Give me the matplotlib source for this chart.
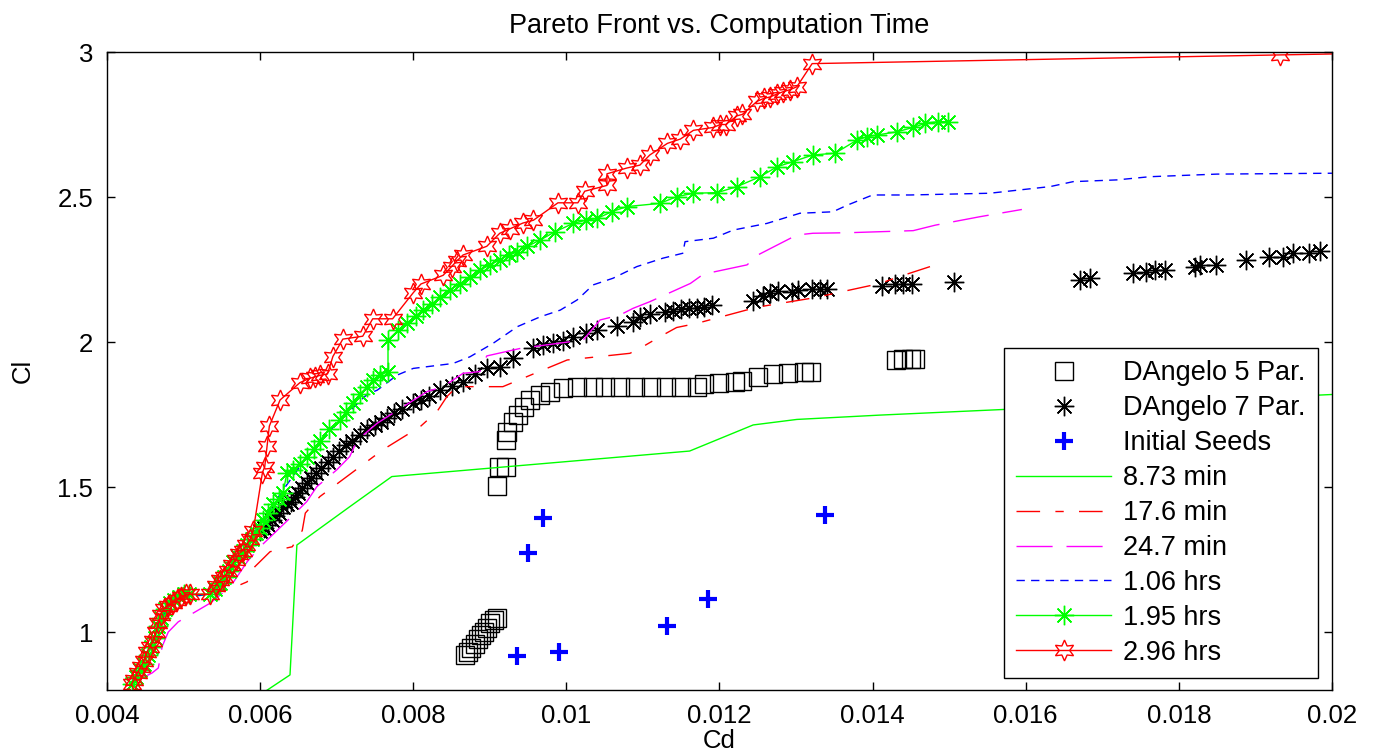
import numpy as np
import matplotlib
matplotlib.use('Agg')
import matplotlib.pyplot as plt

plt.rcParams['font.family'] = ['Liberation Sans', 'DejaVu Sans']

# DAngelo 5 parameters (squares)
d5_cd = [0.00868, 0.00872, 0.00876, 0.00880, 0.00884, 0.00888, 0.00892, 0.00896, 0.00900, 0.00905, 0.00910,
         0.00909, 0.00912, 0.00921, 0.00921, 0.00922, 0.00930, 0.00937, 0.00944, 0.00953, 0.00966, 0.00979,
         0.00996, 0.01014, 0.01035, 0.0105, 0.0107, 0.0109, 0.0111, 0.0113, 0.0115, 0.0117, 0.0118, 0.0120,
         0.0122, 0.0123, 0.0125, 0.0127, 0.0129, 0.0131, 0.0132, 0.0143, 0.0144, 0.0145, 0.01455]
d5_cl = [0.92, 0.93, 0.945, 0.96, 0.975, 0.99, 1.00, 1.015, 1.03, 1.04, 1.05,
         1.503, 1.570, 1.570, 1.662, 1.69, 1.725, 1.748, 1.777, 1.80, 1.817, 1.829,
         1.84, 1.846, 1.846, 1.846, 1.846, 1.846, 1.846, 1.846, 1.846, 1.846, 1.855, 1.858,
         1.862, 1.865, 1.88, 1.89, 1.893, 1.895, 1.895, 1.938, 1.94, 1.94, 1.94]

# DAngelo 7 parameters (asterisks)
d7_cd = [0.00600, 0.00605, 0.00610, 0.00615, 0.00620, 0.00625, 0.00630, 0.00635, 0.00640, 0.00645, 0.00650,
         0.00655, 0.00661, 0.00667, 0.00673, 0.00680, 0.00688, 0.00695, 0.00703, 0.00712, 0.00720, 0.00730,
         0.00740, 0.00750, 0.00758, 0.00766, 0.00775, 0.00785, 0.00800, 0.00810, 0.00820, 0.00835, 0.00850,
         0.00865, 0.00880, 0.00896, 0.00913, 0.00930, 0.00957, 0.00970, 0.00983, 0.00995, 0.01009, 0.01025,
         0.01040, 0.01066, 0.01087, 0.01096, 0.01109, 0.01129, 0.01139, 0.01150, 0.01160, 0.01170, 0.01180,
         0.01190, 0.01244, 0.01257, 0.01266, 0.01277, 0.01295, 0.01303, 0.01321, 0.01331, 0.01340, 0.01412,
         0.01429, 0.01440, 0.01452, 0.01506, 0.01671, 0.01684, 0.01740, 0.01757, 0.01769, 0.01782, 0.01821,
         0.01828, 0.01849, 0.01888, 0.01918, 0.01936, 0.01949, 0.01970, 0.01985]
d7_cl = [1.35, 1.36, 1.37, 1.385, 1.40, 1.41, 1.43, 1.44, 1.45, 1.465, 1.48,
         1.495, 1.514, 1.53, 1.55, 1.565, 1.585, 1.605, 1.625, 1.645, 1.66, 1.679,
         1.70, 1.715, 1.725, 1.738, 1.755, 1.77, 1.789, 1.80, 1.815, 1.834, 1.85,
         1.863, 1.89, 1.91, 1.915, 1.944, 1.979, 1.99, 1.996, 2.005, 2.018, 2.03,
         2.04, 2.055, 2.07, 2.086, 2.097, 2.105, 2.108, 2.114, 2.116, 2.118, 2.122,
         2.128, 2.141, 2.159, 2.169, 2.177, 2.174, 2.179, 2.183, 2.183, 2.183, 2.193,
         2.2, 2.2, 2.2, 2.206, 2.214, 2.22, 2.239, 2.243, 2.248, 2.25, 2.26,
         2.266, 2.266, 2.283, 2.292, 2.292, 2.306, 2.306, 2.315]

# initial seeds
seed_cd = [0.00970, 0.00950, 0.01338, 0.01185, 0.01131, 0.00935, 0.00990]
seed_cl = [1.393, 1.274, 1.403, 1.114, 1.022, 0.917, 0.930]

# 8.73 min
t1_cd = [0.00598, 0.00639, 0.00648, 0.00717, 0.00772, 0.01161, 0.01244, 0.01301, 0.01410, 0.0205]
t1_cl = [0.78, 0.852, 1.30, 1.432, 1.536, 1.624, 1.714, 1.733, 1.748, 1.825]

# 17.6 min
t2_cd = [0.00432, 0.00445, 0.00455, 0.00462, 0.00468, 0.00474, 0.00485, 0.00500, 0.00530, 0.00545,
         0.00558, 0.00583, 0.00593, 0.00613, 0.00642, 0.00655, 0.00659, 0.00678, 0.00700, 0.00760,
         0.00809, 0.00831, 0.00844, 0.00857, 0.00917, 0.00957, 0.01001, 0.01044, 0.01083, 0.01096,
         0.01122, 0.01144, 0.01170, 0.01249, 0.01327, 0.01354, 0.01410, 0.01432, 0.01475]
t2_cl = [0.82, 0.86, 0.90, 0.95, 1.02, 1.07, 1.09, 1.12, 1.13, 1.14,
         1.145, 1.173, 1.225, 1.277, 1.294, 1.35, 1.41, 1.467, 1.51, 1.628,
         1.708, 1.76, 1.812, 1.846, 1.846, 1.89, 1.938, 1.95, 1.961, 1.978,
         2.018, 2.05, 2.064, 2.12, 2.154, 2.17, 2.202, 2.223, 2.26]

# 24.7 min
t3_cd = [0.00432, 0.00445, 0.00459, 0.00467, 0.00472, 0.00480, 0.00493, 0.00535, 0.00561, 0.00583,
         0.00600, 0.00643, 0.00661, 0.00674, 0.00700, 0.00717, 0.00727, 0.00753, 0.00818, 0.00839,
         0.00865, 0.00887, 0.00896, 0.00940, 0.01022, 0.01044, 0.01070, 0.01087, 0.01109, 0.01162,
         0.01179, 0.01236, 0.01250, 0.01301, 0.01322, 0.01370, 0.01453, 0.01482, 0.01540, 0.01595]
t3_cl = [0.82, 0.84, 0.859, 0.876, 0.95, 1.00, 1.035, 1.10, 1.156, 1.242,
         1.294, 1.403, 1.45, 1.501, 1.559, 1.605, 1.662, 1.72, 1.829, 1.846,
         1.892, 1.898, 1.952, 1.978, 2.007, 2.076, 2.093, 2.116, 2.139, 2.202,
         2.234, 2.266, 2.30, 2.369, 2.375, 2.377, 2.384, 2.403, 2.432, 2.457]

# 1.06 hrs
t4_cd = [0.00432, 0.00450, 0.00467, 0.00480, 0.00500, 0.00535, 0.00560, 0.00590, 0.00610, 0.00630,
         0.00660, 0.00700, 0.00740, 0.00753, 0.00779, 0.00800, 0.00852, 0.00874, 0.00904, 0.00936,
         0.00966, 0.00992, 0.01014, 0.01035, 0.01061, 0.01092, 0.01126, 0.01152, 0.01155, 0.01192,
         0.01218, 0.01262, 0.01305, 0.01348, 0.01367, 0.01400, 0.01449, 0.01553, 0.01632, 0.01662,
         0.01719, 0.01762, 0.01850, 0.02000]
t4_cl = [0.82, 0.91, 1.02, 1.09, 1.12, 1.13, 1.21, 1.33, 1.41, 1.49,
         1.60, 1.72, 1.82, 1.834, 1.886, 1.909, 1.926, 1.949, 1.995, 2.053,
         2.087, 2.11, 2.145, 2.197, 2.22, 2.26, 2.289, 2.306, 2.346, 2.358,
         2.386, 2.409, 2.444, 2.449, 2.472, 2.507, 2.507, 2.513, 2.536, 2.553,
         2.559, 2.57, 2.579, 2.582]

# 1.95 hrs
t5_cd = [0.00432, 0.00438, 0.00443, 0.00448, 0.00453, 0.00458, 0.00463, 0.00467, 0.00471, 0.00476,
         0.00482, 0.00488, 0.00494, 0.00500, 0.00507, 0.00535, 0.00541, 0.00547, 0.00553, 0.00559,
         0.00565, 0.00571, 0.00577, 0.00583, 0.00589, 0.00595, 0.00600, 0.00604, 0.00610, 0.00617,
         0.00624, 0.00630, 0.00635, 0.00643, 0.00652, 0.00661, 0.00670, 0.00678, 0.00690, 0.00704,
         0.00712, 0.00721, 0.00730, 0.00740, 0.00748, 0.00757, 0.00767, 0.00767, 0.00780, 0.00792,
         0.00803, 0.00813, 0.00824, 0.00835, 0.00848, 0.00861, 0.00874, 0.00887, 0.00900, 0.00913,
         0.00925, 0.00935, 0.00949, 0.00966, 0.00985, 0.01009, 0.01025, 0.01040, 0.01060, 0.01079,
         0.01122, 0.01144, 0.01166, 0.01197, 0.01223, 0.01253, 0.01275, 0.01296, 0.01322, 0.01351,
         0.01380, 0.01393, 0.01406, 0.01432, 0.01453, 0.01469, 0.01486, 0.01499]
t5_cl = [0.82, 0.845, 0.87, 0.89, 0.92, 0.95, 0.98, 1.02, 1.05, 1.08,
         1.10, 1.11, 1.12, 1.13, 1.13, 1.13, 1.15, 1.17, 1.19, 1.21,
         1.24, 1.26, 1.28, 1.30, 1.32, 1.34, 1.36, 1.386, 1.41, 1.44,
         1.46, 1.48, 1.55, 1.56, 1.58, 1.605, 1.63, 1.66, 1.70, 1.73,
         1.76, 1.79, 1.82, 1.846, 1.87, 1.886, 1.898, 2.007, 2.04, 2.064,
         2.09, 2.11, 2.13, 2.156, 2.18, 2.20, 2.225, 2.248, 2.265, 2.283,
         2.30, 2.31, 2.33, 2.352, 2.38, 2.409, 2.42, 2.426, 2.45, 2.467,
         2.478, 2.501, 2.513, 2.515, 2.536, 2.57, 2.604, 2.622, 2.645, 2.651,
         2.697, 2.708, 2.714, 2.725, 2.74, 2.754, 2.76, 2.76]

# 2.96 hrs
t6_cd = [0.00432, 0.00435, 0.00440, 0.00444, 0.00448, 0.00452, 0.00456, 0.00460, 0.00464, 0.00467,
         0.00470, 0.00474, 0.00480, 0.00486, 0.00491, 0.00497, 0.00503, 0.00508, 0.00535, 0.00542,
         0.00548, 0.00553, 0.00558, 0.00563, 0.00568, 0.00572, 0.00577, 0.00582, 0.00587, 0.00591,
         0.00603, 0.00606, 0.00609, 0.00612, 0.00626, 0.00652, 0.00665, 0.00672, 0.00678, 0.00688,
         0.00695, 0.00708, 0.00734, 0.00747, 0.00773, 0.00800, 0.00810, 0.00839, 0.00850, 0.00857,
         0.00865, 0.00896, 0.00913, 0.00926, 0.00943, 0.00957, 0.00989, 0.01015, 0.01024, 0.01053,
         0.01053, 0.01079, 0.01096, 0.01109, 0.01132, 0.01149, 0.01166, 0.01192, 0.01201, 0.01208,
         0.01223, 0.01230, 0.01249, 0.01258, 0.01266, 0.01275, 0.01283, 0.01292, 0.01301, 0.01321,
         0.01932, 0.02080]
t6_cl = [0.82, 0.835, 0.86, 0.88, 0.90, 0.93, 0.95, 0.97, 1.00, 1.03,
         1.06, 1.08, 1.09, 1.10, 1.11, 1.12, 1.13, 1.13, 1.13, 1.16,
         1.18, 1.19, 1.21, 1.23, 1.25, 1.27, 1.28, 1.30, 1.32, 1.35,
         1.55, 1.57, 1.64, 1.71, 1.80, 1.86, 1.875, 1.88, 1.885, 1.89,
         1.95, 2.01, 2.02, 2.08, 2.08, 2.17, 2.20, 2.23, 2.26, 2.28,
         2.30, 2.33, 2.375, 2.39, 2.41, 2.42, 2.48, 2.48, 2.52, 2.54,
         2.58, 2.60, 2.61, 2.645, 2.685, 2.70, 2.73, 2.74, 2.75, 2.75,
         2.78, 2.785, 2.83, 2.84, 2.845, 2.855, 2.863, 2.87, 2.88, 2.96,
         2.99, 2.997]

xticks = [0.004, 0.006, 0.008, 0.010, 0.012, 0.014, 0.016, 0.018, 0.020]
xtick_labels = ['0.004', '0.006', '0.008', '0.01', '0.012', '0.014', '0.016', '0.018', '0.02']
yticks = [1, 1.5, 2, 2.5, 3]
ytick_labels = ['1', '1.5', '2', '2.5', '3']

asterisk = (8, 2, 0)
hexagram = (6, 1, 0)

fig = plt.figure(figsize=(13.74, 7.56), dpi=100)
ax = fig.add_axes([0.0779, 0.0873, 0.8915, 0.8439])

ax.plot(d5_cd, d5_cl, linestyle='none', marker='s', ms=12.5, mfc='none', mec='black', mew=1.0,
        label='DAngelo 5 Par.')
ax.plot(d7_cd, d7_cl, linestyle='none', marker=asterisk, ms=14, color='black', mew=1.0,
        label='DAngelo 7 Par.')
ax.plot(seed_cd, seed_cl, linestyle='none', marker='+', ms=13, color='#0000ff', mew=3,
        label='Initial Seeds')
ax.plot(t1_cd, t1_cl, color='#00ff00', lw=1.0, label='8.73 min')
ax.plot(t2_cd, t2_cl, color='#ff0000', lw=1.0, dashes=(17, 11, 6, 11), label='17.6 min')
ax.plot(t3_cd, t3_cl, color='#ff00ff', lw=1.0, dashes=(26, 10), label='24.7 min')
ax.plot(t4_cd, t4_cl, color='#0000ff', lw=1.0, dashes=(6, 4.5), label='1.06 hrs')
ax.plot(t5_cd, t5_cl, color='#00ff00', lw=1.0, marker=asterisk, ms=14, mew=1.0, label='1.95 hrs')
ax.plot(t6_cd, t6_cl, color='#ff0000', lw=1.0, marker=hexagram, ms=15, mfc='none', mec='#ff0000',
        mew=1.0, label='2.96 hrs')

ax.set_xlim(0.004, 0.02)
ax.set_ylim(0.8, 3)
ax.set_xticks(xticks)
ax.set_xticklabels(xtick_labels)
ax.set_yticks(yticks)
ax.set_yticklabels(ytick_labels)
ax.tick_params(direction='in', top=True, right=True, length=6, width=1, labelsize=18.5, pad=10)
for s in ax.spines.values():
    s.set_linewidth(1.0)

ax.set_title('Pareto Front vs. Computation Time', fontsize=19.5, pad=14)
ax.set_xlabel('Cd', fontsize=18.5, labelpad=1)
ax.set_ylabel('Cl', fontsize=18.5, labelpad=16)

leg = ax.legend(loc='lower right', bbox_to_anchor=(0.9886, 0.0188), borderaxespad=0,
                fontsize=19.5, handlelength=3.5, handletextpad=0.45, labelspacing=0.33,
                borderpad=0.45, fancybox=False, framealpha=1, edgecolor='black')
leg.get_frame().set_linewidth(1.0)

fig.savefig('out.png', dpi=100)
